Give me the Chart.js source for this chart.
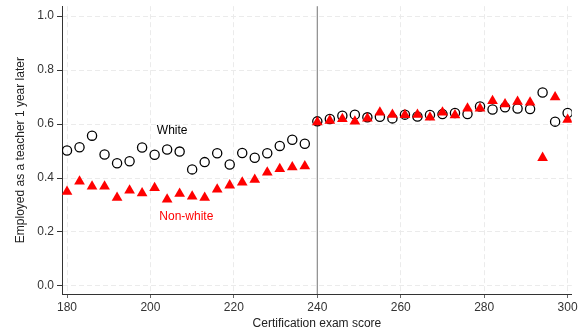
<!DOCTYPE html>
<html>
<head>
<meta charset="utf-8">
<script src="https://cdn.jsdelivr.net/npm/chart.js@4"></script>
<style>
  html, body { margin: 0; padding: 0; background: #fff; }
  #wrap { width: 578px; height: 331px; }
</style>
</head>
<body>
<div id="wrap"><canvas id="scoreChart"></canvas></div>
<script>
// scores (bins every 3 points)
const scores = [180, 183, 186, 189, 192, 195, 198, 201, 204, 207,
  210, 213, 216, 219, 222, 225, 228, 231, 234, 237,
  240, 243, 246, 249, 252, 255, 258, 261, 264, 267,
  270, 273, 276, 279, 282, 285, 288, 291, 294, 297, 300];

const whiteRate = [0.502, 0.514, 0.557, 0.487, 0.455, 0.462, 0.513, 0.486, 0.506, 0.498,
  0.432, 0.459, 0.492, 0.450, 0.493, 0.475, 0.492, 0.519, 0.542, 0.527,
  0.610, 0.619, 0.631, 0.635, 0.625, 0.627, 0.621, 0.635, 0.628, 0.634,
  0.637, 0.641, 0.637, 0.665, 0.654, 0.662, 0.658, 0.656, 0.717, 0.609, 0.641];

const nonWhiteRate = [0.349, 0.387, 0.369, 0.369, 0.327, 0.354, 0.344, 0.363, 0.321, 0.342,
  0.332, 0.327, 0.358, 0.373, 0.384, 0.394, 0.421, 0.434, 0.440, 0.444,
  0.607, 0.613, 0.619, 0.610, 0.621, 0.643, 0.635, 0.634, 0.635, 0.625,
  0.643, 0.633, 0.658, 0.658, 0.686, 0.674, 0.683, 0.680, 0.475, 0.700, 0.616];

const xTicks = [180, 200, 220, 240, 260, 280, 300];
const yTicks = [0, 0.2, 0.4, 0.6, 0.8, 1.0];
const cutoff = 240;

// text labels placed in data coordinates
const seriesLabels = ["White", "Non-white"];
const labelX = [205.2, 208.6];
const labelY = [0.576, 0.255];
const labelColors = ["#000000", "#ff0000"];

const FONT = "'Liberation Sans', Arial, Helvetica, sans-serif";
Chart.defaults.font.family = FONT;
Chart.defaults.font.size = 12;
Chart.defaults.color = "#333";

// vertical cutoff line + text labels
const extras = {
  id: "extras",
  beforeDatasetsDraw(chart) {
    const { ctx, chartArea, scales } = chart;
    const px = scales.x.getPixelForValue(cutoff);
    ctx.save();
    ctx.strokeStyle = "#8c8c8c";
    ctx.lineWidth = 1.2;
    ctx.beginPath();
    ctx.moveTo(px, chartArea.top);
    ctx.lineTo(px, chartArea.bottom);
    ctx.stroke();
    ctx.restore();
  },
  afterDatasetsDraw(chart) {
    const { ctx, scales } = chart;
    ctx.save();
    ctx.font = "12px " + FONT;
    ctx.textAlign = "center";
    ctx.textBaseline = "middle";
    seriesLabels.forEach((t, i) => {
      ctx.fillStyle = labelColors[i];
      ctx.fillText(t, scales.x.getPixelForValue(labelX[i]), scales.y.getPixelForValue(labelY[i]));
    });
    ctx.restore();
  }
};

const ctx = document.getElementById("scoreChart").getContext("2d");

new Chart(ctx, {
  type: "scatter",
  data: {
    datasets: [
      {
        label: "White",
        data: scores.map((s, i) => ({ x: s, y: whiteRate[i] })),
        pointStyle: "circle",
        pointRadius: 4.6,
        pointBorderWidth: 1.3,
        borderColor: "#000",
        backgroundColor: "rgba(0,0,0,0)",
        order: 2
      },
      {
        label: "Non-white",
        data: scores.map((s, i) => ({ x: s, y: nonWhiteRate[i] })),
        pointStyle: "triangle",
        pointRadius: 6.2,
        pointBorderWidth: 0,
        borderColor: "#ff0000",
        backgroundColor: "#ff0000",
        order: 1
      }
    ]
  },
  options: {
    responsive: true,
    maintainAspectRatio: false,
    animation: false,
    events: [],
    layout: { padding: { top: 5, right: 6, left: 0, bottom: 0 } },
    plugins: {
      legend: { display: false },
      tooltip: { enabled: false }
    },
    scales: {
      x: {
        type: "linear",
        min: 178.8,
        max: 301,
        afterBuildTicks: (axis) => { axis.ticks = xTicks.map(v => ({ value: v })); },
        afterFit: (s) => { s.height = 37; s.paddingLeft = 0; s.paddingRight = 0; },
        ticks: { padding: 2, color: "#333", font: { size: 12 } },
        grid: {
          color: "#ebebeb",
          tickColor: "#666",
          tickLength: 4,
          tickBorderDash: []
        },
        border: { display: true, color: "#333", width: 1, dash: [5, 3] },
        title: {
          display: true,
          text: "Certification exam score",
          color: "#222",
          font: { size: 12 },
          padding: { top: 0, bottom: 0 }
        }
      },
      y: {
        min: -0.03,
        max: 1.037,
        afterBuildTicks: (axis) => { axis.ticks = yTicks.map(v => ({ value: v })); },
        afterFit: (s) => { s.width = 62; s.paddingTop = 0; s.paddingBottom = 0; },
        ticks: {
          padding: 3,
          color: "#333",
          font: { size: 12 },
          callback: (v) => Number(v).toFixed(1)
        },
        grid: {
          color: "#ebebeb",
          tickColor: "#333",
          tickLength: 5,
          tickBorderDash: []
        },
        border: { display: true, color: "#333", width: 1, dash: [5, 3] },
        title: {
          display: true,
          text: "Employed as a teacher 1 year later",
          color: "#222",
          font: { size: 12 },
          padding: { top: 13, bottom: 0 }
        }
      }
    }
  },
  plugins: [extras]
});
</script>
</body>
</html>
